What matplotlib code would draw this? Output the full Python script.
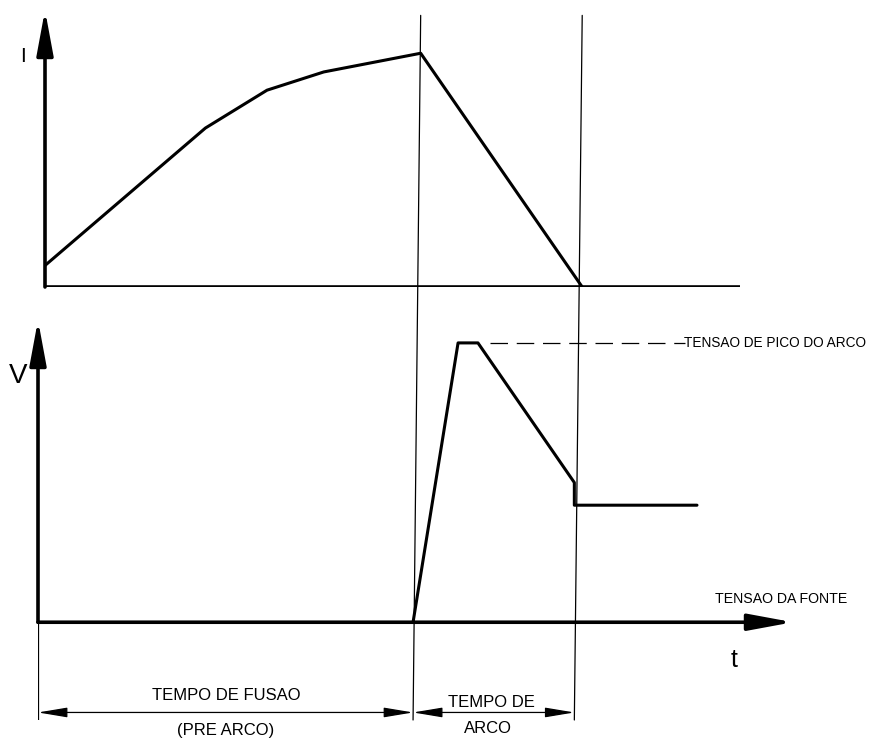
import matplotlib
matplotlib.use("Agg")
import matplotlib.pyplot as plt
from matplotlib.patches import ConnectionPatch

# ---------------- data (arbitrary time / amplitude units) ----------------
T_MELT = 10.0          # end of melting time (pre-arc)
T_CLEAR = 14.3         # end of arcing time

current_t = [0.0, 4.27, 5.91, 7.42, T_MELT, T_CLEAR]
current_i = [0.92, 6.8, 8.42, 9.2, 10.0, 0.0]

voltage_t = [T_MELT, 11.2, 11.73, T_CLEAR, T_CLEAR, 17.57]
voltage_v = [0.0, 10.0, 10.0, 5.0, 4.19, 4.19]

V_PEAK = 10.0
peak_line_t = [12.05, 17.25]

# axis extents
TOP_XMAX, TOP_YMAX = 18.5, 11.85
BOT_XMAX, BOT_YMAX, BOT_YMIN = 20.13, 10.82, -3.5

# labels
label_i = "I"
label_v = "V"
label_t = "t"
label_peak = "TENSAO DE PICO DO ARCO"
label_source = "TENSAO DA FONTE"
label_melt = ["TEMPO DE FUSAO", "(PRE ARCO)"]
label_arc = ["TEMPO DE", "ARCO"]

# ---------------- figure ----------------
W, H = 876, 742
fig = plt.figure(figsize=(W / 100, H / 100), dpi=100)
fig.patch.set_facecolor("white")

def px_rect(x0, x1, y_top, y_bot):
    return [x0 / W, 1 - y_bot / H, (x1 - x0) / W, (y_bot - y_top) / H]

ax_top = fig.add_axes(px_rect(45, 740, 10, 287))
ax_bot = fig.add_axes(px_rect(38, 793, 320, 720))

for ax in (ax_top, ax_bot):
    for s in ax.spines.values():
        s.set_visible(False)
    ax.set_xticks([])
    ax.set_yticks([])
    ax.patch.set_alpha(0)

ax_top.set_xlim(0, TOP_XMAX)
ax_top.set_ylim(0, TOP_YMAX)
ax_bot.set_xlim(0, BOT_XMAX)
ax_bot.set_ylim(BOT_YMIN, BOT_YMAX)

FONT = ["Liberation Sans", "DejaVu Sans"]
AX_LW = 2.6
CURVE_LW = 2.2
arrow_head = dict(arrowstyle="-|>,head_length=2.7,head_width=0.5",
                  color="black", lw=AX_LW, shrinkA=0, shrinkB=0)

# ----- top panel: current -----
ax_top.annotate("", xy=(0, TOP_YMAX), xytext=(0, 0), arrowprops=arrow_head)
ax_top.plot([0, TOP_XMAX], [0, 0], color="black", lw=AX_LW, solid_capstyle="butt")
ax_top.plot(current_t, current_i, color="black", lw=CURVE_LW,
            solid_joinstyle="round", solid_capstyle="round")

# ----- bottom panel: voltage -----
ax_bot.annotate("", xy=(0, BOT_YMAX), xytext=(0, 0), arrowprops=arrow_head)
ax_bot.annotate("", xy=(BOT_XMAX, 0), xytext=(0, 0), arrowprops=arrow_head)
ax_bot.plot([0, 0], [0, BOT_YMIN], color="black", lw=0.9)
ax_bot.plot(voltage_t, voltage_v, color="black", lw=CURVE_LW,
            solid_joinstyle="round", solid_capstyle="round")
ax_bot.plot(peak_line_t, [V_PEAK, V_PEAK], color="black", lw=0.9,
            linestyle=(0, (14, 7)))

# ----- vertical guide lines across both panels -----
for tt in (T_MELT, T_CLEAR):
    con = ConnectionPatch(xyA=(tt, 11.62), coordsA=ax_top.transData,
                          xyB=(tt, BOT_YMIN), coordsB=ax_bot.transData,
                          color="black", lw=0.9)
    fig.add_artist(con)

# ----- dimension arrows -----
dim_style = dict(arrowstyle="<|-|>,head_length=1.8,head_width=0.3",
                 color="black", lw=0.9, shrinkA=0, shrinkB=0)
DIM_V = -3.23
ax_bot.annotate("", xy=(0, DIM_V), xytext=(T_MELT, DIM_V), arrowprops=dim_style)
ax_bot.annotate("", xy=(T_MELT, DIM_V), xytext=(T_CLEAR, DIM_V), arrowprops=dim_style)

# ----- texts -----
fig.text(23 / W, 1 - 56 / H, label_i, family=FONT, fontsize=15,
         ha="center", va="center")
fig.text(18 / W, 1 - 376 / H, label_v, family=FONT, fontsize=20,
         ha="center", va="center")
ax_bot.text(18.56, -1.36, label_t, family=FONT, fontsize=18,
            ha="center", va="center")
ax_bot.text(17.22, V_PEAK, label_peak, family=FONT, fontsize=9.8,
            ha="left", va="center")
ax_bot.text(18.05, 0.82, label_source, family=FONT, fontsize=10.2,
            ha="left", va="center")
ax_bot.text(5.01, -2.61, label_melt[0], family=FONT, fontsize=12,
            ha="center", va="center")
ax_bot.text(5.01, -3.87, label_melt[1], family=FONT, fontsize=12,
            ha="center", va="center", clip_on=False)
ax_bot.text(12.08, -2.86, label_arc[0], family=FONT, fontsize=12,
            ha="center", va="center")
ax_bot.text(12.0, -3.8, label_arc[1], family=FONT, fontsize=12,
            ha="center", va="center", clip_on=False)

fig.savefig("out.png", dpi=100, facecolor="white")
